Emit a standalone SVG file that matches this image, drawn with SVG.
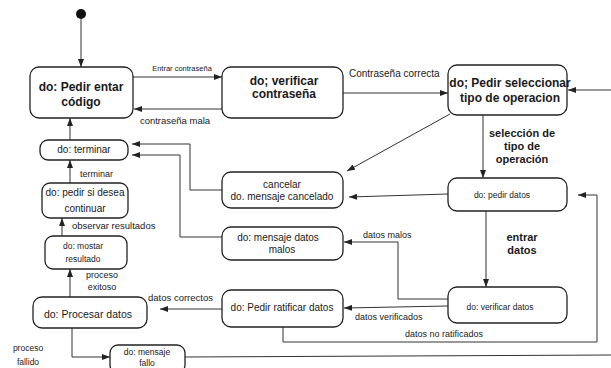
<svg xmlns="http://www.w3.org/2000/svg" width="611" height="368" viewBox="0 0 611 368">
<defs>
<marker id="ah" markerUnits="userSpaceOnUse" markerWidth="8" markerHeight="6" refX="8" refY="3" orient="auto">
<path d="M0,0 L8,3 L0,6 z" fill="#222"/>
</marker>
<style>
.n{fill:#fff;stroke:#222;stroke-width:1.3}
.t{font-family:"Liberation Sans",Arial,sans-serif;fill:#1a1a1a;text-anchor:middle}
.b{font-weight:bold;font-size:12px}
.s{font-size:10px}
.l{font-family:"Liberation Sans",Arial,sans-serif;fill:#1a1a1a}
.c{fill:none;stroke:#333;stroke-width:1;marker-end:url(#ah)}
</style>
</defs>
<rect width="611" height="368" fill="#fff"/>
<g id="connectors">
<path class="c" d="M81,19 L81,67"/>
<path class="c" d="M133,77 L222,77"/>
<path class="c" d="M222,109 L134,109"/>
<path class="c" d="M343,93 L448,93"/>
<path class="c" d="M615,90 L568,90"/>
<path class="c" d="M483,115 L483,178"/>
<path class="c" d="M450,114 L347,171"/>
<path class="c" d="M448,194 L349,197"/>
<path class="c" d="M222,190 L190,190 L190,144 L132,144"/>
<path class="c" d="M222,237 L180,237 L180,155 L132,155"/>
<path class="c" d="M70,140 L70,118"/>
<path class="c" d="M70,183 L70,160"/>
<path class="c" d="M62,236 L62,218"/>
<path class="c" d="M70,297 L70,269"/>
<path class="c" d="M72,328 L72,357 L110,357"/>
<path fill="none" stroke="#333" stroke-width="1" d="M185,357 L615,355"/>
<path class="c" d="M486,211 L486,287"/>
<path class="c" d="M448,299 L398,299 L398,242 L344,242"/>
<path class="c" d="M448,306 L344,308"/>
<path class="c" d="M222,309 L160,309"/>
<path class="c" d="M283,327 L283,342 L597,342 L597,195 L578,195"/>
<text class="l" x="182" y="71" text-anchor="middle" style="font-size:7.5px">Entrar contraseña</text>
<text class="l" x="175" y="124" text-anchor="middle" style="font-size:9.5px">contraseña mala</text>
<text class="l" x="349" y="77" style="font-size:10px">Contraseña correcta</text>
<text class="l" x="522" y="137" text-anchor="middle" style="font-size:11px;font-weight:bold">selección de</text>
<text class="l" x="522" y="150" text-anchor="middle" style="font-size:11px;font-weight:bold">tipo de</text>
<text class="l" x="522" y="163" text-anchor="middle" style="font-size:11px;font-weight:bold">operación</text>
<text class="l" x="522" y="241" text-anchor="middle" style="font-size:11px;font-weight:bold">entrar</text>
<text class="l" x="522" y="254" text-anchor="middle" style="font-size:11px;font-weight:bold">datos</text>
<text class="l" x="80" y="177" style="font-size:9px">terminar</text>
<text class="l" x="72" y="229" style="font-size:9.5px">observar resultados</text>
<text class="l" x="102" y="278" text-anchor="middle" style="font-size:9px">proceso</text>
<text class="l" x="102" y="290" text-anchor="middle" style="font-size:9px">exitoso</text>
<text class="l" x="148" y="301" style="font-size:9.5px">datos correctos</text>
<text class="l" x="363" y="238" style="font-size:9px">datos malos</text>
<text class="l" x="355" y="320" style="font-size:9px">datos verificados</text>
<text class="l" x="405" y="337" style="font-size:9px">datos no ratificados</text>
<text class="l" x="28" y="351" text-anchor="middle" style="font-size:8.5px">proceso</text>
<text class="l" x="28" y="365" text-anchor="middle" style="font-size:8.5px">fallido</text>
</g>
<g id="inicio"><circle cx="81" cy="14" r="5" fill="#111"/></g>
<g id="pedir-codigo">
<rect class="n" x="30" y="67" width="103" height="51" rx="9"/>
<text class="t b" x="81" y="91">do: Pedir entar</text>
<text class="t b" x="81" y="106">código</text>
</g>
<g id="verificar-contrasena">
<rect class="n" x="222" y="67" width="121" height="51" rx="9"/>
<text class="t b" x="284" y="85">do; verificar</text>
<text class="t b" x="284" y="98">contraseña</text>
</g>
<g id="seleccionar-operacion">
<rect class="n" x="448" y="65" width="119" height="50" rx="9"/>
<text class="t b" x="510" y="87">do; Pedir seleccionar</text>
<text class="t b" x="510" y="102">tipo de operacion</text>
</g>
<g id="terminar">
<rect class="n" x="40" y="140" width="88" height="20" rx="8"/>
<text class="t s" x="84" y="153">do: terminar</text>
</g>
<g id="continuar">
<rect class="n" x="42" y="183" width="86" height="35" rx="8"/>
<text class="t s" x="85" y="196">do: pedir si desea</text>
<text class="t s" x="85" y="212">continuar</text>
</g>
<g id="mostrar-resultado">
<rect class="n" x="45" y="236" width="82" height="33" rx="8"/>
<text class="t" x="83" y="249" font-size="8.5">do: mostar</text>
<text class="t" x="83" y="262" font-size="8.5">resultado</text>
</g>
<g id="procesar-datos">
<rect class="n" x="33" y="297" width="114" height="31" rx="9"/>
<text class="t" x="88" y="318" font-size="10.5">do: Procesar datos</text>
</g>
<g id="mensaje-fallo">
<rect class="n" x="110" y="345" width="75" height="28" rx="8"/>
<text class="t" x="147" y="355" font-size="8.5">do: mensaje</text>
<text class="t" x="147" y="366" font-size="8.5">fallo</text>
</g>
<g id="cancelado">
<rect class="n" x="222" y="172" width="121" height="36" rx="9"/>
<text class="t s" x="282" y="188">cancelar</text>
<text class="t s" x="282" y="200">do. mensaje cancelado</text>
</g>
<g id="datos-malos">
<rect class="n" x="222" y="227" width="121" height="33" rx="9"/>
<text class="t s" x="278" y="241">do: mensaje datos</text>
<text class="t s" x="282" y="253">malos</text>
</g>
<g id="ratificar-datos">
<rect class="n" x="222" y="290" width="121" height="37" rx="9"/>
<text class="t s" x="282" y="311">do: Pedir ratificar datos</text>
</g>
<g id="pedir-datos">
<rect class="n" x="448" y="178" width="119" height="33" rx="9"/>
<text class="t" x="502" y="198" font-size="8.5">do: pedir datos</text>
</g>
<g id="verificar-datos">
<rect class="n" x="448" y="287" width="119" height="36" rx="9"/>
<text class="t" x="500" y="310" font-size="8.5">do: verificar datos</text>
</g>
</svg>
